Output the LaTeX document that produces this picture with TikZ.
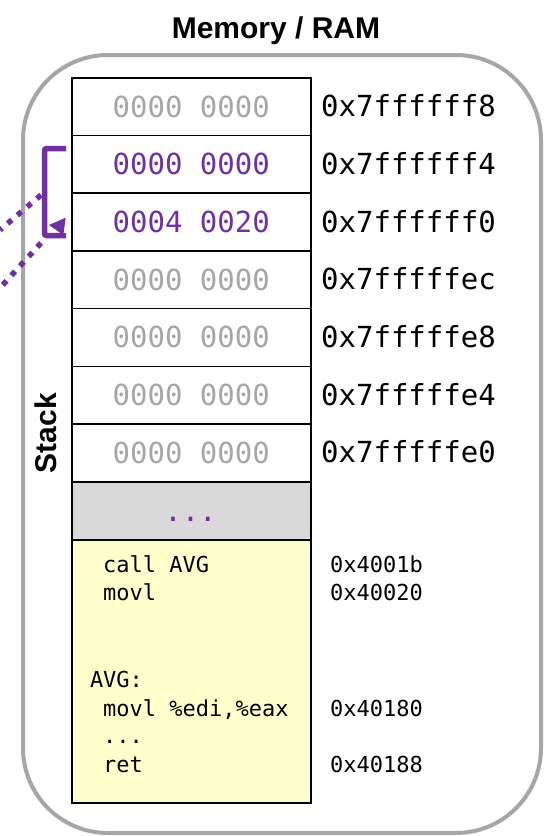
\documentclass[tikz,border=0pt]{standalone}
\usepackage{fontspec}
\setmainfont{Liberation Sans}
\newfontfamily\codefont{DejaVu Sans Mono}
\definecolor{vpurple}{HTML}{7030A0}
\definecolor{ltgray}{HTML}{A6A6A6}
\definecolor{cellgray}{HTML}{D9D9D9}
\definecolor{codeyellow}{HTML}{FFFFCC}
\newcommand{\bigmono}{\codefont\fontsize{29}{34}\selectfont}
\newcommand{\smallmono}{\codefont\fontsize{22}{27}\selectfont}
\begin{document}
\begin{tikzpicture}[x=1pt,y=-1pt,
  cellbox/.style={draw=black, line width=1.5pt, minimum width=239pt, minimum height=57.7pt, inner sep=0pt, anchor=north west, font=\bigmono},
  addrlbl/.style={anchor=west, inner sep=0pt, font=\bigmono, text=black},
  codeline/.style={anchor=base west, inner sep=0pt, font=\smallmono, text=black},
  dottedlink/.style={draw=vpurple, line width=5.5pt, dash pattern=on 5.5pt off 7.3pt},
  bracketline/.style={draw=vpurple, line width=5.5pt, rounded corners=2pt}
]
\useasboundingbox (0,0) rectangle (544,836);

% outer memory box
\draw[line width=4pt, ltgray, rounded corners=85pt] (23,55) rectangle (541,833);

% title
\node[anchor=base, inner sep=0pt, font=\bfseries\fontsize{30}{35}\selectfont] (title) at (276,38) {Memory / RAM};

% stack label
\node[rotate=90, inner sep=0pt, font=\bfseries\fontsize{30}{35}\selectfont] (stacklbl) at (46,433) {Stack};

% stack cells
\foreach \i/\val/\col/\addr in {0/0000 0000/ltgray/0x7ffffff8,
                                1/0000 0000/vpurple/0x7ffffff4,
                                2/0004 0020/vpurple/0x7ffffff0,
                                3/0000 0000/ltgray/0x7fffffec,
                                4/0000 0000/ltgray/0x7fffffe8,
                                5/0000 0000/ltgray/0x7fffffe4,
                                6/0000 0000/ltgray/0x7fffffe0}{
  \pgfmathsetmacro{\ytop}{77+57.7*\i}
  \pgfmathsetmacro{\ymid}{77+57.7*\i+28.85}
  \node[cellbox, text=\col] (r\i) at (71,\ytop) {\val};
  \node[addrlbl] (a\i) at (321,\ymid) {\addr};
}

% gray gap
\node[cellbox, fill=cellgray, minimum height=58pt] (gap) at (71,481) {};
\node[inner sep=0pt, font=\bigmono, text=vpurple] (gapdots) at (190.5,519) {...};

% code segment
\node[cellbox, fill=codeyellow, minimum height=263pt] (code) at (71,539) {};
\node[codeline] (c1) at (103,572) {call AVG};
\node[codeline] (c2) at (103,600) {movl};
\node[codeline] (c3) at (89.8,687) {AVG:};
\node[codeline] (c4) at (103,716) {movl \%edi,\%eax};
\node[codeline] (c5) at (103,743) {...};
\node[codeline] (c6) at (103,772) {ret};

\node[codeline] (ca1) at (330,572) {0x4001b};
\node[codeline] (ca2) at (330,600) {0x40020};
\node[codeline] (ca3) at (330,716) {0x40180};
\node[codeline] (ca4) at (330,772) {0x40188};

% bracket with arrowhead
\coordinate (bt) at (66,148.5);
\coordinate (bl) at (44.5,192);
\coordinate (bb) at (66,235.5);
\draw[bracketline] (bt) -| (bl) |- (bb);
\fill[vpurple] (49,225) -- (65.7,217.7) -- (63.3,235) -- cycle;

% dotted links from the left
\coordinate (d1s) at (0,230);
\coordinate (d1e) at (41,195);
\coordinate (d2s) at (0,288);
\coordinate (d2e) at (41,243);
\draw[dottedlink] (d1e) -- (d1s);
\draw[dottedlink] (d2e) -- (d2s);
\end{tikzpicture}
\end{document}
